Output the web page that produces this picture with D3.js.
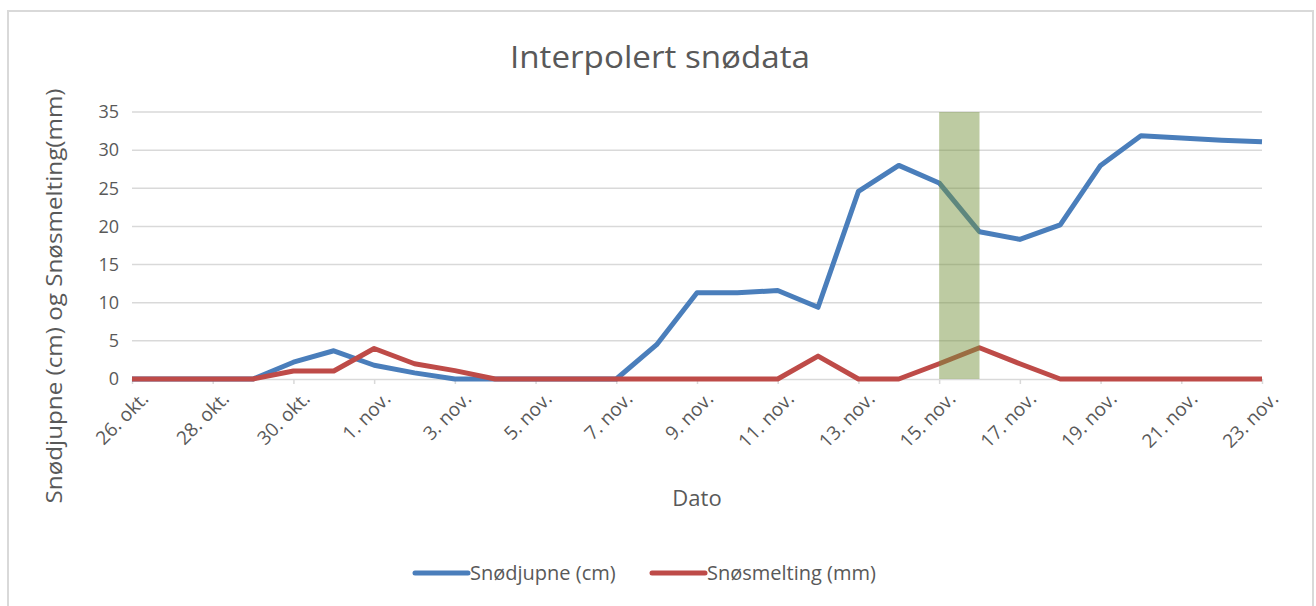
<!DOCTYPE html>
<html>
<head>
<meta charset="utf-8">
<script src="https://cdn.jsdelivr.net/npm/d3@7"></script>
<style>
  html, body { margin: 0; padding: 0; background: #fff; }
  svg { display: block; }
  text { font-family: "Open Sans", "Noto Sans", sans-serif; fill: #595959; }
</style>
</head>
<body>
<svg id="chart" width="1316" height="606"></svg>
<script>
const dates = ["26. okt.","27. okt.","28. okt.","29. okt.","30. okt.","31. okt.",
  "1. nov.","2. nov.","3. nov.","4. nov.","5. nov.","6. nov.","7. nov.","8. nov.",
  "9. nov.","10. nov.","11. nov.","12. nov.","13. nov.","14. nov.","15. nov.",
  "16. nov.","17. nov.","18. nov.","19. nov.","20. nov.","21. nov.","22. nov.","23. nov."];
const snodjupne = [0,0,0,0,2.2,3.7,1.8,0.8,0,0,0,0,0,4.5,11.3,11.3,11.6,9.4,24.6,28.0,25.7,19.3,18.3,20.2,28.0,31.9,31.6,31.3,31.1];
const snosmelting = [0,0,0,0,1.05,1.05,4.0,2.0,1.1,0,0,0,0,0,0,0,0,3.0,0,0,2.0,4.1,2.0,0,0,0,0,0,0];
const tickLabels = ["26. okt.","28. okt.","30. okt.","1. nov.","3. nov.","5. nov.","7. nov.","9. nov.",
  "11. nov.","13. nov.","15. nov.","17. nov.","19. nov.","21. nov.","23. nov."];
const yTicks = [0,5,10,15,20,25,30,35];
const bandStart = "15. nov.", bandEnd = "16. nov.";
const seriesNames = ["Snødjupne (cm)","Snøsmelting (mm)"];
const colors = ["#4a7ebb","#be4b48"];

const svg = d3.select("#chart");
const L = 132, R = 1262, T = 112, B = 379;
const x = d3.scalePoint().domain(dates).range([L, R]).padding(0);
const y = d3.scaleLinear().domain([0, 35]).range([B, T]);

// outer border
svg.append("rect").attr("x", 8).attr("y", 11).attr("width", 1305).attr("height", 620)
  .attr("fill", "#fff").attr("stroke", "#d9d9d9").attr("stroke-width", 2);

// title
svg.append("text").attr("x", 660).attr("y", 68).attr("text-anchor", "middle")
  .style("font-size", "31px").attr("textLength", 300).attr("lengthAdjust", "spacingAndGlyphs")
  .text("Interpolert snødata");

// gridlines
svg.append("g").selectAll("line").data(yTicks.filter(d => d > 0)).join("line")
  .attr("x1", L).attr("x2", R).attr("y1", d => y(d)).attr("y2", d => y(d))
  .attr("stroke", "#d9d9d9").attr("stroke-width", 1.5);

// y axis
const yAxis = svg.append("g").attr("transform", `translate(${L},0)`)
  .call(d3.axisLeft(y).tickValues(yTicks).tickSize(0).tickPadding(13));
yAxis.select(".domain").remove();
yAxis.selectAll("text").style("font-size", "18px").attr("fill", "#595959").style("font-family", "'Open Sans', sans-serif");

// x axis
const xAxis = svg.append("g").attr("transform", `translate(0,${B})`)
  .call(d3.axisBottom(x).tickValues(tickLabels).tickSize(5).tickSizeOuter(0).tickPadding(4));
xAxis.select(".domain").attr("stroke", "#d9d9d9").attr("stroke-width", 1.5);
xAxis.selectAll(".tick line").attr("stroke", "#d9d9d9").attr("stroke-width", 1.5);
xAxis.selectAll("text").style("font-size", "19px").attr("fill", "#595959")
  .style("font-family", "'Open Sans', sans-serif")
  .attr("text-anchor", "end").attr("dy", "0.35em")
  .attr("transform", "translate(6,10) rotate(-45)");

// axis titles
svg.append("text").attr("transform", "translate(62,296) rotate(-90)")
  .attr("text-anchor", "middle").style("font-size", "22px")
  .attr("textLength", 415).attr("lengthAdjust", "spacingAndGlyphs")
  .text("Snødjupne (cm) og Snøsmelting(mm)");
svg.append("text").attr("x", (L + R) / 2).attr("y", 506).attr("text-anchor", "middle")
  .style("font-size", "22px").text("Dato");

// lines
const line = d3.line().x((d, i) => x(dates[i])).y(d => y(d));
[snodjupne, snosmelting].forEach((s, k) => {
  svg.append("path").datum(s).attr("d", line).attr("fill", "none")
    .attr("stroke", colors[k]).attr("stroke-width", 5)
    .attr("stroke-linejoin", "round").attr("stroke-linecap", "butt");
});

// highlight band (drawn over lines, translucent)
svg.append("rect").attr("x", x(bandStart)).attr("y", y(35))
  .attr("width", x(bandEnd) - x(bandStart)).attr("height", y(0) - y(35))
  .attr("fill", "#76923c").attr("opacity", 0.48);

// legend
const legendItems = [{x: 415, name: seriesNames[0], c: colors[0]}, {x: 652, name: seriesNames[1], c: colors[1]}];
legendItems.forEach(it => {
  svg.append("line").attr("x1", it.x).attr("x2", it.x + 53).attr("y1", 573).attr("y2", 573)
    .attr("stroke", it.c).attr("stroke-width", 5).attr("stroke-linecap", "round");
  svg.append("text").attr("x", it.x + 55).attr("y", 580).style("font-size", "20px").text(it.name);
});
</script>
</body>
</html>
